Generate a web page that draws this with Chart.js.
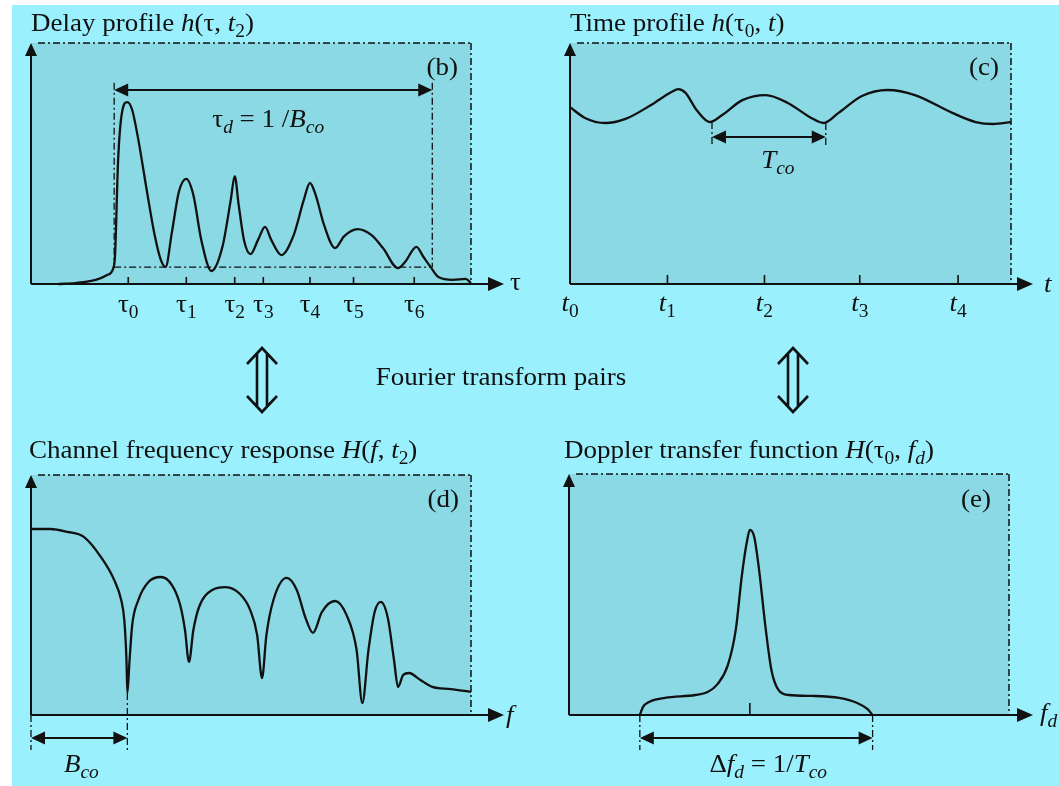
<!DOCTYPE html>
<html><head><meta charset="utf-8">
<script src="https://cdn.jsdelivr.net/npm/chart.js@4.4.1/dist/chart.umd.min.js"></script>
<style>
html,body{margin:0;padding:0;background:#fff;width:1059px;height:786px;overflow:hidden}
#bg{position:absolute;left:12px;top:5px;width:1047px;height:781px;background:#9bf0fd}
canvas{position:absolute;left:0;top:0}
</style></head><body>
<div id="bg"></div>
<canvas id="cb" width="1059" height="786"></canvas>
<canvas id="cc" width="1059" height="786"></canvas>
<canvas id="cd" width="1059" height="786"></canvas>
<canvas id="ce" width="1059" height="786"></canvas>
<script>
// ---- data ----
const delayTau = [6.2,10.1,14.7,17.3,18.7,19.1,19.8,20.7,21.9,23.0,24.4,26.3,28.1,29.5,30.6,32.0,33.6,35.3,36.9,38.7,41.0,43.5,45.4,46.3,47.2,48.4,49.9,51.6,53.2,54.6,56.9,59.7,62.0,63.4,64.7,66.6,69.1,71.2,74.2,77.4,80.0,83.4,85.0,87.6,89.2,90.8,92.6,95.9,98.8,100];
const delayAmp = [0,0.4,1.7,3.7,6.6,12.0,51.5,71.4,75.5,72.2,59.8,39.0,20.3,10.0,7.1,21.2,38.2,43.6,36.9,18.3,5.4,15.4,34.9,44.8,32.8,18.3,12.4,18.3,23.7,18.3,12.0,20.3,34.9,41.9,36.9,24.5,14.9,19.9,22.8,20.3,14.9,6.6,9.1,15.4,11.2,7.1,2.9,1.7,2.1,0.4];
const delayTicks = [22.1,35.3,46.3,52.8,63.4,73.3,87.1];
const delayTickLabels = ['τ0','τ1','τ2','τ3','τ4','τ5','τ6'];
const delaySpread = [18.9,91.2];

const timeT = [0,3.4,8.0,12.6,18.4,23.0,24.6,26.2,28.7,31.7,34.5,39.1,44.4,49.4,54.7,57.5,60.9,66.2,72.0,78.2,86.7,92.0,95.9,100];
const timeAmp = [73.4,68.9,66.8,68.5,74.3,79.7,80.9,79.3,72.2,67.2,70.1,76.3,78.4,75.1,68.9,66.8,71.0,78.0,80.5,78.4,71.0,67.2,66.4,67.2];
const timeTicks = [0,22.1,44.1,65.7,88.0];
const timeTickLabels = ['t0','t1','t2','t3','t4'];
const coherenceTime = [32.2,58.0];

const freqF = [0,4.4,8.3,12.0,15.9,18.9,20.5,21.2,21.7,21.9,22.4,23.0,24.4,26.7,29.5,32.0,33.9,35.0,35.9,36.9,38.2,41.2,44.2,47.5,49.8,51.4,52.5,53.5,55.1,58.1,60.4,62.4,64.1,66.1,69.1,71.7,74.0,75.3,76.7,78.1,79.5,81.1,82.5,83.4,84.6,85.9,88.5,91.2,95.4,100];
const freqAmp = [77.5,77.5,76.3,74.2,65.8,56.3,47.9,39.6,22.9,9.2,22.9,37.5,47.9,55.4,57.5,54.2,45.8,35.4,22.1,35.4,45.0,52.1,53.3,50.4,43.8,33.3,15.4,33.3,47.9,57.1,52.1,40.4,34.2,42.9,47.5,41.7,27.1,5.0,27.1,42.9,47.1,40.4,22.9,11.7,16.7,17.5,14.6,11.7,10.8,9.6];
const coherenceBand = [0,21.9];

const dopFd = [16.1,16.8,18.2,21.8,28.7,31.5,33.8,36.1,37.9,39.3,40.5,41.1,42.1,43.2,44.6,46.0,47.6,49.9,55.6,61.4,65.5,67.8,69.0];
const dopAmp = [0,3.3,5.4,7.1,8.3,9.5,12.9,20.7,35.3,58.1,72.6,76.8,73.9,60.2,37.3,18.7,10.4,8.3,7.9,7.1,5.0,2.5,0];
const dopCenter = 41.1;
const dopSpread = [16.1,69.0];

// ---- helpers ----
const FF = "'Liberation Serif','DejaVu Serif',serif";
const FS = 25, SS = 18, HX = 1.08;
function fontFor(st){
  const sub = st[0]==='s';
  const it = st.indexOf('i')>=0;
  return (it?'italic ':'') + (sub?SS:FS) + 'px ' + FF;
}
function rich(ctx, x, y, parts, align){
  let w=0;
  parts.forEach(p=>{ctx.font=fontFor(p[1]); w+=ctx.measureText(p[0]).width;});
  w*=HX;
  let cx = align==='center'? x-w/2 : align==='right'? x-w : x;
  ctx.save();
  ctx.textAlign='left'; ctx.textBaseline='alphabetic'; ctx.fillStyle='#111';
  ctx.translate(cx,y); ctx.scale(HX,1);
  let ox=0;
  parts.forEach(p=>{ctx.font=fontFor(p[1]); const dy = p[1][0]==='s'?6:0; ctx.fillText(p[0],ox,dy); ox+=ctx.measureText(p[0]).width;});
  ctx.restore();
}
function head(ctx,x,y,dir,len,hw){
  ctx.beginPath(); ctx.moveTo(x,y);
  if(dir==='r'){ctx.lineTo(x-len,y-hw);ctx.lineTo(x-len,y+hw);}
  if(dir==='l'){ctx.lineTo(x+len,y-hw);ctx.lineTo(x+len,y+hw);}
  if(dir==='u'){ctx.lineTo(x-hw,y+len);ctx.lineTo(x+hw,y+len);}
  ctx.closePath(); ctx.fillStyle='#111'; ctx.fill();
}
function line(ctx,x1,y1,x2,y2,w,dash){
  ctx.save(); ctx.beginPath(); ctx.lineWidth=w; ctx.strokeStyle='#111';
  ctx.setLineDash(dash||[]); ctx.moveTo(x1,y1); ctx.lineTo(x2,y2); ctx.stroke(); ctx.restore();
}
const DD=[7,3,2,3];
function dblArrow(ctx,x1,x2,y){
  line(ctx,x1+6,y,x2-6,y,2);
  head(ctx,x1,y,'l',14,6.5); head(ctx,x2,y,'r',14,6.5);
}
function frame(ctx,a,tipX){
  line(ctx,a.left,a.bottom,a.left,a.top+4,2);
  head(ctx,a.left,a.top,'u',13,6);
  line(ctx,a.left,a.bottom,tipX-6,a.bottom,2);
  head(ctx,tipX,a.bottom,'r',16,7);
  line(ctx,a.left+7,a.top,a.right,a.top,1.5,DD);
  line(ctx,a.right,a.top,a.right,a.bottom,1.5,DD);
}
function subLabel(s){ return [[s[0], s[0]==='τ'?'r':'i'],[s.slice(1),'sr']]; }

function makeChart(id, xs, ys, box, deco){
  const pts = xs.map((x,i)=>({x:x,y:ys[i]}));
  return new Chart(document.getElementById(id),{
    type:'line',
    data:{datasets:[{data:pts,borderColor:'#111',borderWidth:2.3,pointRadius:0,fill:false,
      cubicInterpolationMode:'monotone',clip:false}]},
    options:{responsive:false,animation:false,devicePixelRatio:1,events:[],
      layout:{padding:{left:box[0],top:box[1],right:1059-box[2],bottom:786-box[3]}},
      plugins:{legend:{display:false},tooltip:{enabled:false}},
      scales:{x:{type:'linear',min:0,max:100,display:false},y:{min:0,max:100,display:false}}},
    plugins:[{id:'deco',
      beforeDatasetsDraw(c){const a=c.chartArea,ctx=c.ctx;ctx.save();ctx.fillStyle='#8ad9e4';
        ctx.fillRect(a.left,a.top,a.right-a.left,a.bottom-a.top);ctx.restore();},
      afterDatasetsDraw(c){deco(c,c.ctx,c.chartArea,c.scales.x,c.scales.y);}}]
  });
}

// (b) delay profile
makeChart('cb', delayTau, delayAmp, [31,43,471,284], (c,ctx,a,X,Y)=>{
  frame(ctx,a,504);
  delayTicks.forEach((v,i)=>{const px=X.getPixelForValue(v); line(ctx,px,a.bottom,px,a.bottom-7,1.6);
    rich(ctx,px,a.bottom+28,subLabel(delayTickLabels[i]),'center');});
  rich(ctx,510,a.bottom+6,[['τ','r']],'left');
  const x1=X.getPixelForValue(delaySpread[0]), x2=X.getPixelForValue(delaySpread[1]);
  const yb=Y.getPixelForValue(7.0), yt=Y.getPixelForValue(83.5), ya=Y.getPixelForValue(80.5);
  line(ctx,x1,yt,x1,yb,1.3,DD); line(ctx,x2,yt,x2,yb,1.3,DD); line(ctx,x1,yb,x2,yb,1.3,DD);
  dblArrow(ctx,x1,x2,ya);
  rich(ctx,(x1+x2)/2-5,127,[['τ','r'],['d','si'],[' = 1 /','r'],['B','i'],['co','si']],'center');
  rich(ctx,a.right-13,a.top+32,[['(b)','r']],'right');
  rich(ctx,31,31,[['Delay profile ','r'],['h','i'],['(τ, ','r'],['t','i'],['2','sr'],[')','r']],'left');
  // Fourier transform pairs (shared, middle)
  rich(ctx,501,385,[['Fourier transform pairs','r']],'center');
  [262,793].forEach(x=>{
    ctx.save();ctx.lineWidth=2.6;ctx.strokeStyle='#111';ctx.lineJoin='miter';
    ctx.beginPath();ctx.moveTo(x-15,364);ctx.lineTo(x,348);ctx.lineTo(x+15,364);
    ctx.moveTo(x-15,396);ctx.lineTo(x,412);ctx.lineTo(x+15,396);
    ctx.moveTo(x-5,354);ctx.lineTo(x-5,406);ctx.moveTo(x+5,354);ctx.lineTo(x+5,406);
    ctx.stroke();ctx.restore();
  });
});

// (c) time profile
makeChart('cc', timeT, timeAmp, [570,43,1011,284], (c,ctx,a,X,Y)=>{
  frame(ctx,a,1033);
  timeTicks.forEach((v,i)=>{const px=X.getPixelForValue(v); if(v>0) line(ctx,px,a.bottom,px,a.bottom-9,1.6);
    rich(ctx,px,a.bottom+27,subLabel(timeTickLabels[i]),'center');});
  rich(ctx,1044,a.bottom+8,[['t','i']],'left');
  const x1=X.getPixelForValue(coherenceTime[0]), x2=X.getPixelForValue(coherenceTime[1]);
  const ya=Y.getPixelForValue(61.0);
  line(ctx,x1,Y.getPixelForValue(67.2),x1,ya+8,1.3,DD); line(ctx,x2,Y.getPixelForValue(66.8),x2,ya+8,1.3,DD);
  dblArrow(ctx,x1,x2,ya);
  rich(ctx,(x1+x2)/2+9,168,[['T','i'],['co','si']],'center');
  rich(ctx,a.right-12,a.top+32,[['(c)','r']],'right');
  rich(ctx,570,31,[['Time profile ','r'],['h','i'],['(τ','r'],['0','sr'],[', ','r'],['t','i'],[')','r']],'left');
});

// (d) channel frequency response
makeChart('cd', freqF, freqAmp, [31,475,471,715], (c,ctx,a,X,Y)=>{
  frame(ctx,a,504);
  rich(ctx,506,a.bottom+8,[['f','i']],'left');
  const x1=X.getPixelForValue(coherenceBand[0]), x2=X.getPixelForValue(coherenceBand[1]);
  line(ctx,x1,a.bottom,x1,a.bottom+35,1.3,DD); line(ctx,x2,Y.getPixelForValue(9.2),x2,a.bottom+35,1.3,DD);
  dblArrow(ctx,x1,x2,a.bottom+23);
  rich(ctx,64,772,[['B','i'],['co','si']],'left');
  rich(ctx,a.right-12,a.top+32,[['(d)','r']],'right');
  rich(ctx,29,458,[['Channel frequency response ','r'],['H','i'],['(','r'],['f','i'],[', ','r'],['t','i'],['2','sr'],[')','r']],'left');
});

// (e) Doppler transfer function
makeChart('ce', dopFd, dopAmp, [569,474,1009,715], (c,ctx,a,X,Y)=>{
  frame(ctx,a,1033);
  rich(ctx,1040,a.bottom+6,[['f','i'],['d','si']],'left');
  const pc=X.getPixelForValue(dopCenter); line(ctx,pc,a.bottom,pc,a.bottom-12,1.6);
  const x1=X.getPixelForValue(dopSpread[0]), x2=X.getPixelForValue(dopSpread[1]);
  line(ctx,x1,a.bottom,x1,a.bottom+35,1.3,DD); line(ctx,x2,a.bottom,x2,a.bottom+35,1.3,DD);
  dblArrow(ctx,x1,x2,a.bottom+23);
  rich(ctx,(x1+x2)/2+12,772,[['Δ','r'],['f','i'],['d','si'],[' = 1/','r'],['T','i'],['co','si']],'center');
  rich(ctx,a.right-18,a.top+33,[['(e)','r']],'right');
  rich(ctx,564,458,[['Doppler transfer function ','r'],['H','i'],['(τ','r'],['0','sr'],[', ','r'],['f','i'],['d','si'],[')','r']],'left');
});
</script>
</body></html>
